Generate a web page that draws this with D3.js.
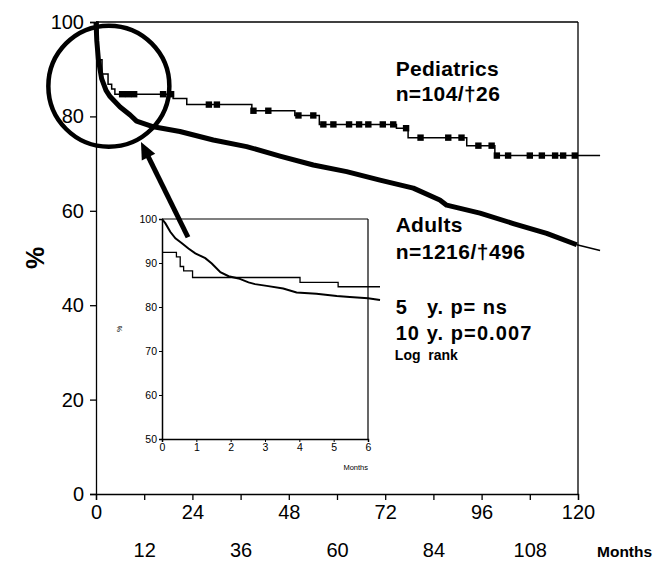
<!DOCTYPE html>
<html><head><meta charset="utf-8">
<script src="https://cdn.jsdelivr.net/npm/d3@7"></script>
<style>
body{margin:0;background:#fff}
svg{display:block}
text{font-family:"Liberation Sans",Arial,Helvetica,sans-serif;fill:#000;white-space:pre}
</style>
</head><body>
<svg id="c" width="658" height="564"></svg>
<script>
// ---------- data ----------
const xTicks = [0,12,24,36,48,60,72,84,96,108,120];
const yTicks = [0,20,40,60,80,100];

// Adults, main chart (months, % surviving)
const adultMonths = [0,0.2,0.6,1.4,2.5,3.5,6,8.5,10.1,14.3,20.9,29.2,37.5,45.8,54.1,62.4,70.7,79,85.6,87.3,95.6,103.9,112.2,119.7];
const adultSurv   = [100,96,92,88,85.5,84.2,82,80.3,79,77.8,76.8,75,73.6,71.6,69.7,68.3,66.5,64.8,62.3,61.2,59.5,57.3,55.2,52.8];
// thin tail of the adult curve beyond 120 months
const adultTailMonths = [119.7,125.5];
const adultTailSurv   = [52.8,51.6];

// Pediatrics, main chart (step curve)
const pedMonths = [0,0.5,1.5,3.0,3.9,4.7,19.2,22.6,38.8,49.5,55.6,74.8,77.7,92.3,99.3,125.5];
const pedSurv   = [100,92,89,86.8,85.8,84.7,83.8,82.5,81.2,80.2,78.3,77.5,75.5,73.8,71.7,71.7];
// Pediatrics censor marks (months)
const pedCensor = [6.5,8.0,9.5,16.7,18.7,28.1,30.1,39.2,42.9,50.4,54.1,56.6,59.1,63.0,65.5,67.8,71.4,74.0,77.2,80.8,87.7,91.0,95.2,98.5,99.8,102.6,108,111,114.3,116.3,119.2];

// Inset (first 6 months)
const insetXTicks = [0,1,2,3,4,5,6];
const insetYTicks = [50,60,70,80,90,100];
const insetAdultMonths = [0,0.1,0.24,0.39,0.58,0.77,0.97,1.26,1.45,1.7,1.94,2.23,2.52,2.71,3.05,3.53,3.92,4.5,5.09,5.47,6.0,6.35];
const insetAdultSurv   = [100,99,97.1,95.6,94.5,93.3,92.2,91.1,89.9,87.9,87.0,86.5,85.6,85.2,84.8,84.2,83.3,83.0,82.5,82.3,82.0,81.6];
const insetPedMonths = [0,0.42,0.53,0.63,0.89,4.02,5.13,6.35];
const insetPedSurv   = [92.4,91.4,89.2,88.2,86.7,85.6,84.6,84.6];

// Annotations (data units of the main chart)
const circleCenter = {m:3.2, s:86.4};
const arrowFrom = {m:22.9, s:54.4};
const arrowTo   = {m:11.2, s:74.6};

const texts = [
  {t:"Pediatrics", size:21, ls:0.3, m:74.6, s:88.5},
  {t:"n=104/\u202026", size:21, ls:0.4, m:74.6, s:83.2},
  {t:"Adults", size:21, ls:0.3, m:74.6, s:55.5},
  {t:"n=1216/\u2020496", size:21, ls:0.5, m:74.6, s:49.8},
  {t:"5   y. p= ns", size:20, ls:0.9, m:74.6, s:38.1},
  {t:"10 y. p=0.007", size:20, ls:1.1, m:74.6, s:32.6},
  {t:"Log  rank", size:14, ls:0, m:74.4, s:28.4}
];

// ---------- drawing ----------
const svg = d3.select("#c");
const x = d3.scaleLinear().domain([0,120]).range([96,578]);
const y = d3.scaleLinear().domain([0,100]).range([494,22]);

// frame top/right
svg.append("line").attr("x1",x(0)).attr("x2",x(120)).attr("y1",y(100)).attr("y2",y(100)).attr("stroke","#000").attr("stroke-width",1.3);
svg.append("line").attr("x1",x(120)).attr("x2",x(120)).attr("y1",y(100)).attr("y2",y(0)).attr("stroke","#000").attr("stroke-width",1.3);

// y axis
const ya = svg.append("g").attr("transform",`translate(${x(0)},0)`)
  .call(d3.axisLeft(y).tickValues(yTicks).tickSize(6).tickPadding(6).tickFormat(d3.format("d")));
ya.select(".domain").attr("stroke","#000").attr("stroke-width",1.3);
ya.selectAll(".tick line").attr("stroke","#000").attr("stroke-width",1.3);
ya.selectAll("text").attr("font-size",20).attr("font-family","Liberation Sans, Arial, sans-serif");

// x axis
const xa = svg.append("g").attr("transform",`translate(0,${y(0)})`)
  .call(d3.axisBottom(x).tickValues(xTicks).tickSize(6).tickPadding(5).tickFormat(d3.format("d")));
xa.select(".domain").attr("stroke","#000").attr("stroke-width",1.3);
xa.selectAll(".tick line").attr("stroke","#000").attr("stroke-width",1.3);
xa.selectAll("text").attr("font-size",20).attr("font-family","Liberation Sans, Arial, sans-serif")
  .attr("y",(d,i)=> i%2===0 ? 11 : 49);

svg.append("text").attr("x",597).attr("y",557).attr("font-size",15.5).attr("font-weight","bold").text("Months");

// y label
svg.append("text").attr("transform","translate(44,258) rotate(-90)").attr("text-anchor","middle")
  .attr("font-size",25).attr("font-weight","bold").text("%");

// Pediatrics curve
const stepLine = d3.line().curve(d3.curveStepAfter);
svg.append("path").attr("d",stepLine(pedMonths.map((m,i)=>[x(m),y(pedSurv[i])])))
  .attr("fill","none").attr("stroke","#000").attr("stroke-width",1.5);
svg.selectAll("rect.cens").data(pedCensor).join("rect").attr("class","cens")
  .attr("x",d=>x(d)-3.2).attr("width",6.4).attr("height",6.4)
  .attr("y",d=>y(pedSurv[d3.bisectRight(pedMonths,d)-1])-3.2).attr("fill","#000");

// Adults curve
const lin = d3.line();
svg.append("path").attr("d",lin(adultMonths.map((m,i)=>[x(m),y(adultSurv[i])])))
  .attr("fill","none").attr("stroke","#000").attr("stroke-width",5).attr("stroke-linejoin","round").attr("stroke-linecap","butt");
svg.append("path").attr("d",lin(adultTailMonths.map((m,i)=>[x(m),y(adultTailSurv[i])])))
  .attr("fill","none").attr("stroke","#000").attr("stroke-width",1.5);

// texts
texts.forEach(d=>{
  svg.append("text").attr("x",x(d.m)).attr("y",y(d.s)).attr("font-size",d.size)
    .attr("letter-spacing",d.ls).attr("font-weight","bold").text(d.t);
});

// circle
svg.append("circle").attr("cx",x(circleCenter.m)).attr("cy",y(circleCenter.s)).attr("r",60.5)
  .attr("fill","none").attr("stroke","#000").attr("stroke-width",4.5);

// arrow
{
  const x1=x(arrowFrom.m), y1=y(arrowFrom.s), x2=x(arrowTo.m), y2=y(arrowTo.s);
  const dx=x2-x1, dy=y2-y1, L=Math.hypot(dx,dy), ux=dx/L, uy=dy/L;
  const hl=17, hw=7.5;
  const bx=x2-ux*hl, by=y2-uy*hl;
  svg.append("line").attr("x1",x1).attr("y1",y1).attr("x2",bx+ux*2).attr("y2",by+uy*2)
    .attr("stroke","#000").attr("stroke-width",5);
  svg.append("path").attr("d",`M${x2},${y2}L${bx-uy*hw},${by+ux*hw}L${bx+uy*hw},${by-ux*hw}Z`).attr("fill","#000");
}

// ---------- inset ----------
const ix = d3.scaleLinear().domain([0,6]).range([162,368]);
const iy = d3.scaleLinear().domain([50,100]).range([439,219]);
const ig = svg.append("g");
ig.append("line").attr("x1",ix(0)).attr("x2",ix(6)).attr("y1",iy(100)).attr("y2",iy(100)).attr("stroke","#000").attr("stroke-width",1.2);
ig.append("line").attr("x1",ix(6)).attr("x2",ix(6)).attr("y1",iy(100)).attr("y2",iy(50)).attr("stroke","#000").attr("stroke-width",1.2);
const iya = ig.append("g").attr("transform",`translate(${ix(0)},0)`)
  .call(d3.axisLeft(iy).tickValues(insetYTicks).tickSize(3).tickPadding(2).tickFormat(d3.format("d")));
iya.select(".domain").attr("stroke","#000").attr("stroke-width",1.5);
iya.selectAll(".tick line").attr("stroke","#000");
iya.selectAll("text").attr("font-size",10.5).attr("font-family","Liberation Sans, Arial, sans-serif");
const ixa = ig.append("g").attr("transform",`translate(0,${iy(50)})`)
  .call(d3.axisBottom(ix).tickValues(insetXTicks).tickSize(3).tickPadding(2).tickFormat(d3.format("d")));
ixa.select(".domain").attr("stroke","#000").attr("stroke-width",1.5);
ixa.selectAll(".tick line").attr("stroke","#000");
ixa.selectAll("text").attr("font-size",10.5).attr("font-family","Liberation Sans, Arial, sans-serif");
ig.append("text").attr("x",ix(6)).attr("y",iy(50)+31).attr("text-anchor","end").attr("font-size",7.5).text("Months");
ig.append("text").attr("transform",`translate(${ix(0)-40},${iy(75)}) rotate(-90)`).attr("text-anchor","middle").attr("font-size",7).text("%");

ig.append("path").attr("d",stepLine(insetPedMonths.map((m,i)=>[ix(m),iy(insetPedSurv[i])])))
  .attr("fill","none").attr("stroke","#000").attr("stroke-width",1.3);
ig.append("path").attr("d",lin(insetAdultMonths.map((m,i)=>[ix(m),iy(insetAdultSurv[i])])))
  .attr("fill","none").attr("stroke","#000").attr("stroke-width",2);
</script>
</body></html>
